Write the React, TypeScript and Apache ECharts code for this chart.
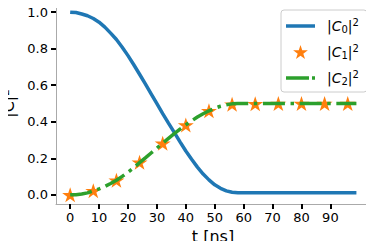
import React, { useEffect, useRef } from "react";
import * as echarts from "echarts";

// time grid (ns) for the curves
const tGrid = [0, 2, 4, 6, 8, 10, 12, 14, 16, 18, 20, 22, 24, 26, 28, 30, 32, 34, 36, 38, 40, 42, 44, 46, 48, 50, 52, 54, 56, 58, 99];
// |C0|^2
const c0Values = [1.0, 0.998, 0.99, 0.98, 0.965, 0.945, 0.918, 0.885, 0.85, 0.808, 0.762, 0.712, 0.66, 0.607, 0.553, 0.499, 0.445, 0.393, 0.342, 0.29, 0.24, 0.195, 0.152, 0.114, 0.082, 0.055, 0.036, 0.022, 0.014, 0.011, 0.011];
// |C2|^2
const c2Values = [0.0, 0.001, 0.005, 0.011, 0.022, 0.033, 0.046, 0.062, 0.08, 0.101, 0.124, 0.149, 0.176, 0.202, 0.229, 0.256, 0.283, 0.309, 0.335, 0.36, 0.383, 0.405, 0.426, 0.444, 0.46, 0.474, 0.485, 0.493, 0.498, 0.5, 0.5];
// |C1|^2 star markers
const tStars = [0, 8, 16, 24, 32, 40, 48, 56, 64, 72, 80, 88, 96];
const c1Values = [0.0, 0.023, 0.08, 0.178, 0.282, 0.382, 0.46, 0.496, 0.499, 0.5, 0.5, 0.5, 0.5];

const xTicks = [0, 10, 20, 30, 40, 50, 60, 70, 80, 90];
const yTicks = [0, 0.2, 0.4, 0.6, 0.8, 1.0];
const seriesNames = ["C0", "C1", "C2"];

const X_MIN = -4.9;
const X_MAX = 103.7;
const Y_MIN = -0.05;
const Y_MAX = 1.05;

const STAR =
  "path://M50,0 L61.2,34.5 L97.6,34.5 L68.2,55.9 L79.4,90.5 L50,69.1 L20.6,90.5 L31.8,55.9 L2.4,34.5 L38.8,34.5 Z";
const ICON_SOLID = "path://M0,0 H29 V3.5 H0 Z";
const ICON_DASHDOT = "path://M0,0 H23 V3.5 H0 Z M26,0 H29 V3.5 H26 Z";

const FONT = "DejaVu Sans";
const FRAME = "#aaaaaa";

export default function App() {
  const ref = useRef<HTMLDivElement>(null);
  useEffect(() => {
    if (!ref.current) return;
    const chart = echarts.init(ref.current, undefined, { renderer: "svg" });
    const pair = (ts: number[], vs: number[]) => ts.map((t, i) => [t, vs[i]]);
    chart.setOption({
      animation: false,
      grid: { left: 56, top: 3, right: 4, bottom: 45, outerBoundsMode: "none" },
      xAxis: [
        {
          type: "value",
          min: X_MIN,
          max: X_MAX,
          name: "t [ns]",
          nameLocation: "middle",
          nameGap: 18,
          nameTextStyle: { fontFamily: FONT, fontSize: 16, color: "#000" },
          axisLine: { show: true, onZero: false, lineStyle: { color: FRAME, width: 1 } },
          splitLine: { show: false },
          axisTick: {
            show: true,
            length: 5,
            customValues: xTicks,
            lineStyle: { color: "#000", width: 2 },
          },
          axisLabel: {
            customValues: xTicks,
            margin: 7,
            fontFamily: FONT,
            fontSize: 13,
            color: "#000",
          },
        },
        {
          type: "value",
          position: "top",
          min: X_MIN,
          max: X_MAX,
          axisLine: { show: true, onZero: false, lineStyle: { color: FRAME, width: 1 } },
          axisTick: { show: false },
          axisLabel: { show: false },
          splitLine: { show: false },
        },
      ],
      yAxis: [
        {
          type: "value",
          min: Y_MIN,
          max: Y_MAX,
          name: "|C|²",
          nameLocation: "middle",
          nameGap: 33,
          nameTextStyle: { fontFamily: FONT, fontSize: 16, color: "#000" },
          axisLine: { show: true, onZero: false, lineStyle: { color: FRAME, width: 1 } },
          splitLine: { show: false },
          axisTick: {
            show: true,
            length: 5,
            customValues: yTicks,
            lineStyle: { color: "#000", width: 2 },
          },
          axisLabel: {
            customValues: yTicks,
            margin: 8,
            fontFamily: FONT,
            fontSize: 13,
            color: "#000",
            formatter: (v: number) => v.toFixed(1),
          },
        },
        {
          type: "value",
          position: "right",
          min: Y_MIN,
          max: Y_MAX,
          axisLine: { show: true, onZero: false, lineStyle: { color: FRAME, width: 1 } },
          axisTick: { show: false },
          axisLabel: { show: false },
          splitLine: { show: false },
        },
      ],
      legend: {
        show: true,
        orient: "vertical",
        left: 281,
        top: 10,
        padding: [7, 8, 6, 5],
        itemGap: 9,
        itemWidth: 29,
        itemHeight: 14,
        symbolKeepAspect: true,
        backgroundColor: "rgba(255,255,255,0.8)",
        borderColor: "#cccccc",
        borderWidth: 1,
        borderRadius: 3,
        data: [
          { name: seriesNames[0], icon: ICON_SOLID },
          { name: seriesNames[1], icon: STAR },
          { name: seriesNames[2], icon: ICON_DASHDOT },
        ],
        formatter: (name: string) => `{t||}{i|C}{sub|${name.slice(1)}}{t||}{sup|2}`,
        textStyle: {
          fontFamily: FONT,
          fontSize: 14,
          color: "#000",
          padding: [0, 0, 0, 7],
          rich: {
            t: { fontFamily: FONT, fontSize: 14, color: "#000" },
            i: { fontFamily: FONT, fontStyle: "italic", fontSize: 14, color: "#000" },
            sub: { fontFamily: FONT, fontSize: 10, color: "#000", padding: [6, 0, 0, 0] },
            sup: { fontFamily: FONT, fontSize: 10, color: "#000", padding: [0, 0, 8, 0] },
          },
        },
      },
      series: [
        {
          name: "C0",
          type: "line",
          data: pair(tGrid, c0Values),
          showSymbol: false,
          symbol: "none",
          lineStyle: { color: "#1f77b4", width: 3.5 },
          itemStyle: { color: "#1f77b4" },
        },
        {
          name: "C1",
          type: "scatter",
          data: pair(tStars, c1Values),
          symbol: STAR,
          symbolSize: [16, 15],
          itemStyle: { color: "#ff7f0e", opacity: 1 },
        },
        {
          name: "C2",
          type: "line",
          data: pair(tGrid, c2Values),
          showSymbol: false,
          symbol: "none",
          lineStyle: { color: "#2ca02c", width: 3.5, type: [22, 5.6, 3.5, 5.6] },
          itemStyle: { color: "#2ca02c" },
        },
      ],
    });
    return () => chart.dispose();
  }, []);
  return <div ref={ref} style={{ width: 374, height: 249, margin: -8 }} />;
}
